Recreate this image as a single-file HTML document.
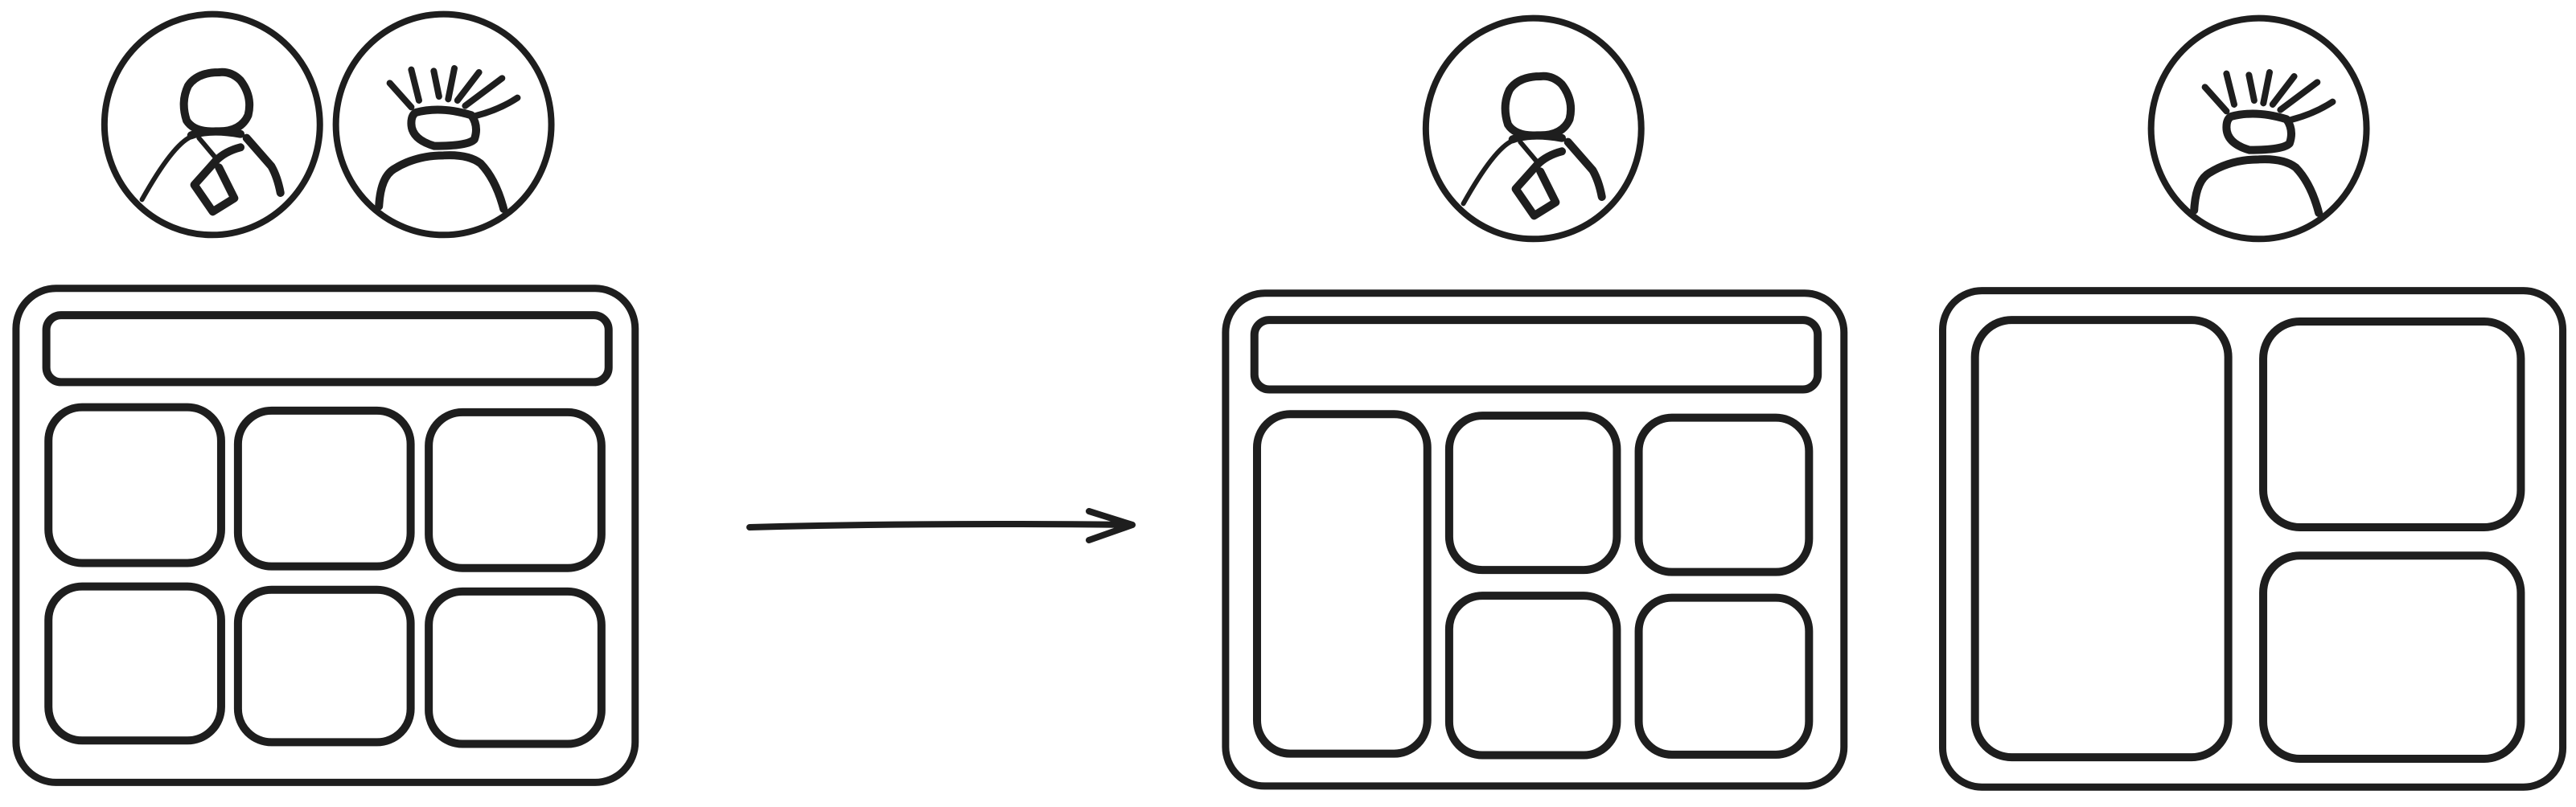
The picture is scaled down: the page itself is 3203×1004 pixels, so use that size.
<!DOCTYPE html>
<html><head><meta charset="utf-8"><style>
html,body{margin:0;padding:0;background:#fff;}
svg{display:block;}
.s{fill:none;stroke:#1e1e1e;stroke-linecap:round;stroke-linejoin:round;vector-effect:non-scaling-stroke;}
</style></head><body>
<svg width="3203" height="1004" viewBox="0 0 3203 1004" xmlns="http://www.w3.org/2000/svg">
<defs>
<g id="p1">
<ellipse class="s" cx="428" cy="465" rx="350" ry="412" style="stroke-width:8"/>
<path class="s" style="stroke-width:10" d="M450,270 Q380,270 350,320 Q325,380 345,450 Q370,495 440,490 Q520,495 545,430 Q560,360 520,300 Q490,265 450,270"/>
<path class="s" style="stroke-width:10" d="M360,505 Q420,480 520,500"/>
<path class="s" style="stroke-width:6" d="M360,510 Q300,540 200,745"/>
<path class="s" style="stroke-width:10" d="M540,515 L620,620 Q640,660 650,720"/>
<path class="s" style="stroke-width:6" d="M385,515 L440,590"/>
<path class="s" style="stroke-width:10" d="M520,550 Q470,565 440,600 L370,690 L430,790 L500,740 L450,625"/>
</g>
<g id="p2">
<ellipse class="s" cx="1180" cy="465" rx="350" ry="412" style="stroke-width:8"/>
<path class="s" style="stroke-width:10" d="M1090,420 Q1170,395 1270,430 Q1295,470 1280,520 Q1260,545 1150,545 Q1075,520 1075,460 Q1075,430 1090,420"/>
<path class="s" style="stroke-width:8" d="M1075,400 L1005,310 M1100,375 L1075,260 M1165,360 L1148,265 M1195,370 L1215,255 M1225,375 L1295,270 M1250,395 L1370,292 M1285,432 Q1360,410 1420,365"/>
<path class="s" style="stroke-width:10" d="M970,770 Q975,660 1020,630 Q1090,580 1180,580 Q1260,575 1300,610 Q1350,670 1375,780"/>
</g>
</defs>

<g transform="translate(100,0) scale(0.3827,0.3333)">
<use href="#p1"/>
<use href="#p2"/>
</g>
<g transform="translate(1743,5) scale(0.3827,0.3333)">
<use href="#p1"/>
</g>
<g transform="translate(2357,5) scale(0.3827,0.3333)">
<use href="#p2"/>
</g>

<g transform="translate(0,340) scale(0.5237,0.4167)">
<rect class="s" style="stroke-width:9" x="38" y="45" width="1470" height="1475" rx="95" ry="120"/>
<rect class="s" style="stroke-width:10" x="110" y="125" width="1335" height="200" rx="35" ry="44"/>
<rect class="s" style="stroke-width:10" x="115" y="400" width="410" height="465" rx="80" ry="100"/>
<rect class="s" style="stroke-width:10" x="565" y="410" width="410" height="465" rx="80" ry="100"/>
<rect class="s" style="stroke-width:10" x="1018" y="415" width="410" height="465" rx="80" ry="100"/>
<rect class="s" style="stroke-width:10" x="115" y="935" width="410" height="460" rx="80" ry="100"/>
<rect class="s" style="stroke-width:10" x="565" y="945" width="410" height="455" rx="80" ry="100"/>
<rect class="s" style="stroke-width:10" x="1018" y="950" width="410" height="455" rx="80" ry="100"/>
</g>

<g>
<path class="s" style="stroke-width:8" d="M932,656 Q1150,650 1408,653 M1408,653 L1354,636 M1408,653 L1354,672"/>
</g>

<g transform="translate(1500,0) scale(1.086,0.640)">
<rect class="s" style="stroke-width:9" x="22" y="570" width="708" height="958" rx="45" ry="76"/>
<rect class="s" style="stroke-width:10" x="55" y="622" width="645" height="135" rx="17" ry="29"/>
<rect class="s" style="stroke-width:10" x="58" y="805" width="195" height="660" rx="38" ry="65"/>
<rect class="s" style="stroke-width:10" x="278" y="808" width="192" height="300" rx="38" ry="65"/>
<rect class="s" style="stroke-width:10" x="495" y="812" width="195" height="300" rx="38" ry="65"/>
<rect class="s" style="stroke-width:10" x="278" y="1158" width="192" height="310" rx="38" ry="65"/>
<rect class="s" style="stroke-width:10" x="495" y="1162" width="195" height="305" rx="38" ry="65"/>

<rect class="s" style="stroke-width:9" x="843" y="565" width="710" height="965" rx="45" ry="76"/>
<rect class="s" style="stroke-width:10" x="880" y="622" width="290" height="850" rx="42" ry="72"/>
<rect class="s" style="stroke-width:10" x="1210" y="625" width="295" height="400" rx="42" ry="72"/>
<rect class="s" style="stroke-width:10" x="1210" y="1080" width="295" height="395" rx="42" ry="72"/>
</g>
</svg>
</body></html>
